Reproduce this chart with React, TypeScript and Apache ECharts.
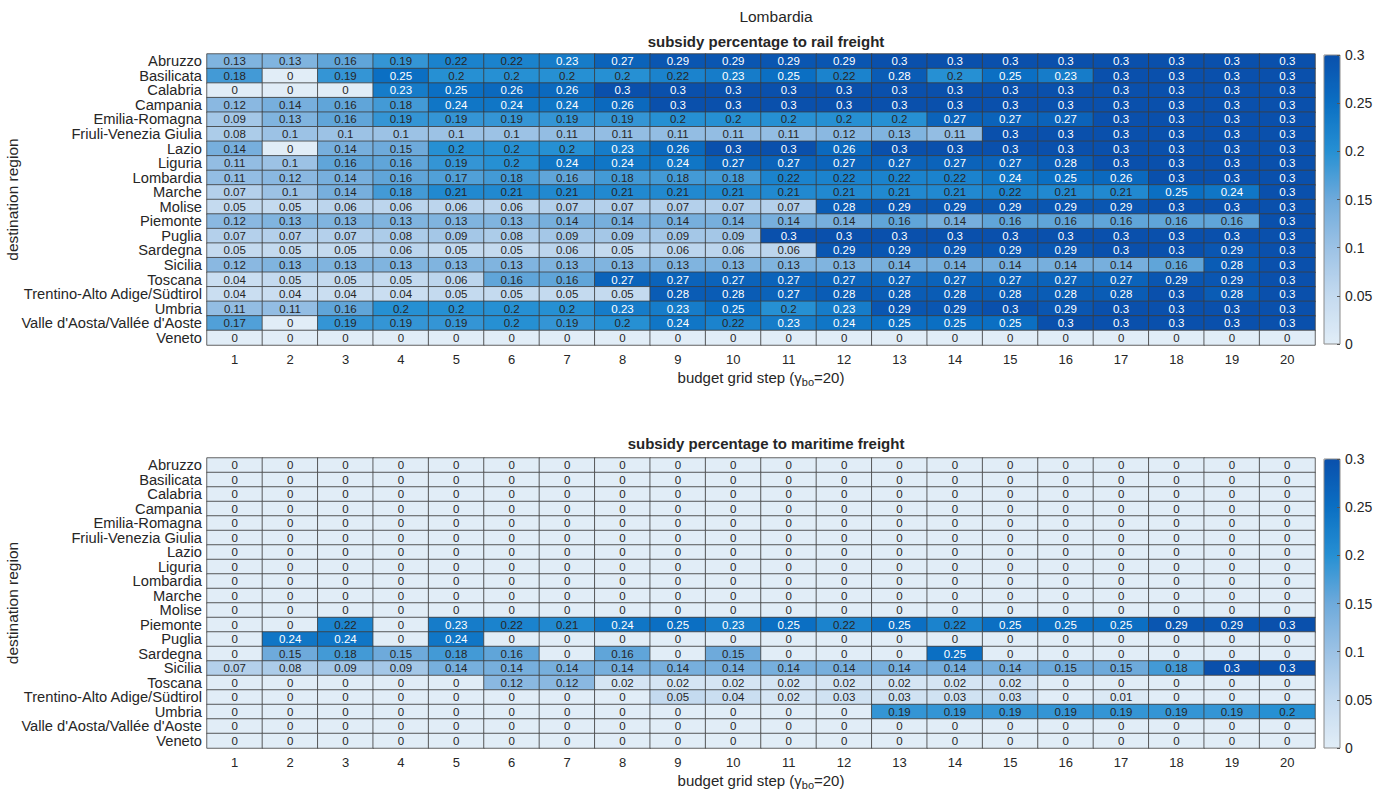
import React, { useEffect, useRef } from "react";
import * as echarts from "echarts";

const figureTitle = "Lombardia";
const railTitle = "subsidy percentage to rail freight";
const maritimeTitle = "subsidy percentage to maritime freight";
const yAxisName = "destination region";

const regions = [
  "Abruzzo",
  "Basilicata",
  "Calabria",
  "Campania",
  "Emilia-Romagna",
  "Friuli-Venezia Giulia",
  "Lazio",
  "Liguria",
  "Lombardia",
  "Marche",
  "Molise",
  "Piemonte",
  "Puglia",
  "Sardegna",
  "Sicilia",
  "Toscana",
  "Trentino-Alto Adige/Südtirol",
  "Umbria",
  "Valle d'Aosta/Vallée d'Aoste",
  "Veneto",
];

const steps = ["1", "2", "3", "4", "5", "6", "7", "8", "9", "10", "11", "12", "13", "14", "15", "16", "17", "18", "19", "20"];

// rail freight subsidy, one row per region (steps 1..20)
const railAbruzzo = [0.13, 0.13, 0.16, 0.19, 0.22, 0.22, 0.23, 0.27, 0.29, 0.29, 0.29, 0.29, 0.3, 0.3, 0.3, 0.3, 0.3, 0.3, 0.3, 0.3];
const railBasilicata = [0.18, 0, 0.19, 0.25, 0.2, 0.2, 0.2, 0.2, 0.22, 0.23, 0.25, 0.22, 0.28, 0.2, 0.25, 0.23, 0.3, 0.3, 0.3, 0.3];
const railCalabria = [0, 0, 0, 0.23, 0.25, 0.26, 0.26, 0.3, 0.3, 0.3, 0.3, 0.3, 0.3, 0.3, 0.3, 0.3, 0.3, 0.3, 0.3, 0.3];
const railCampania = [0.12, 0.14, 0.16, 0.18, 0.24, 0.24, 0.24, 0.26, 0.3, 0.3, 0.3, 0.3, 0.3, 0.3, 0.3, 0.3, 0.3, 0.3, 0.3, 0.3];
const railEmilia = [0.09, 0.13, 0.16, 0.19, 0.19, 0.19, 0.19, 0.19, 0.2, 0.2, 0.2, 0.2, 0.2, 0.27, 0.27, 0.27, 0.3, 0.3, 0.3, 0.3];
const railFriuli = [0.08, 0.1, 0.1, 0.1, 0.1, 0.1, 0.11, 0.11, 0.11, 0.11, 0.11, 0.12, 0.13, 0.11, 0.3, 0.3, 0.3, 0.3, 0.3, 0.3];
const railLazio = [0.14, 0, 0.14, 0.15, 0.2, 0.2, 0.2, 0.23, 0.26, 0.3, 0.3, 0.26, 0.3, 0.3, 0.3, 0.3, 0.3, 0.3, 0.3, 0.3];
const railLiguria = [0.11, 0.1, 0.16, 0.16, 0.19, 0.2, 0.24, 0.24, 0.24, 0.27, 0.27, 0.27, 0.27, 0.27, 0.27, 0.28, 0.3, 0.3, 0.3, 0.3];
const railLombardia = [0.11, 0.12, 0.14, 0.16, 0.17, 0.18, 0.16, 0.18, 0.18, 0.18, 0.22, 0.22, 0.22, 0.22, 0.24, 0.25, 0.26, 0.3, 0.3, 0.3];
const railMarche = [0.07, 0.1, 0.14, 0.18, 0.21, 0.21, 0.21, 0.21, 0.21, 0.21, 0.21, 0.21, 0.21, 0.21, 0.22, 0.21, 0.21, 0.25, 0.24, 0.3];
const railMolise = [0.05, 0.05, 0.06, 0.06, 0.06, 0.06, 0.07, 0.07, 0.07, 0.07, 0.07, 0.28, 0.29, 0.29, 0.29, 0.29, 0.29, 0.3, 0.3, 0.3];
const railPiemonte = [0.12, 0.13, 0.13, 0.13, 0.13, 0.13, 0.14, 0.14, 0.14, 0.14, 0.14, 0.14, 0.16, 0.14, 0.16, 0.16, 0.16, 0.16, 0.16, 0.3];
const railPuglia = [0.07, 0.07, 0.07, 0.08, 0.09, 0.08, 0.09, 0.09, 0.09, 0.09, 0.3, 0.3, 0.3, 0.3, 0.3, 0.3, 0.3, 0.3, 0.3, 0.3];
const railSardegna = [0.05, 0.05, 0.05, 0.06, 0.05, 0.05, 0.06, 0.05, 0.06, 0.06, 0.06, 0.29, 0.29, 0.29, 0.29, 0.29, 0.3, 0.3, 0.29, 0.3];
const railSicilia = [0.12, 0.13, 0.13, 0.13, 0.13, 0.13, 0.13, 0.13, 0.13, 0.13, 0.13, 0.13, 0.14, 0.14, 0.14, 0.14, 0.14, 0.16, 0.28, 0.3];
const railToscana = [0.04, 0.05, 0.05, 0.05, 0.06, 0.16, 0.16, 0.27, 0.27, 0.27, 0.27, 0.27, 0.27, 0.27, 0.27, 0.27, 0.27, 0.29, 0.29, 0.3];
const railTrentino = [0.04, 0.04, 0.04, 0.04, 0.05, 0.05, 0.05, 0.05, 0.28, 0.28, 0.27, 0.28, 0.28, 0.28, 0.28, 0.28, 0.28, 0.3, 0.28, 0.3];
const railUmbria = [0.11, 0.11, 0.16, 0.2, 0.2, 0.2, 0.2, 0.23, 0.23, 0.25, 0.2, 0.23, 0.29, 0.29, 0.3, 0.29, 0.3, 0.3, 0.3, 0.3];
const railValle = [0.17, 0, 0.19, 0.19, 0.19, 0.2, 0.19, 0.2, 0.24, 0.22, 0.23, 0.24, 0.25, 0.25, 0.25, 0.3, 0.3, 0.3, 0.3, 0.3];
const railVeneto = [0, 0, 0, 0, 0, 0, 0, 0, 0, 0, 0, 0, 0, 0, 0, 0, 0, 0, 0, 0];

const railValues = [
  railAbruzzo, railBasilicata, railCalabria, railCampania, railEmilia, railFriuli, railLazio,
  railLiguria, railLombardia, railMarche, railMolise, railPiemonte, railPuglia, railSardegna,
  railSicilia, railToscana, railTrentino, railUmbria, railValle, railVeneto,
];

// maritime freight subsidy, one row per region (steps 1..20)
const zeros = [0, 0, 0, 0, 0, 0, 0, 0, 0, 0, 0, 0, 0, 0, 0, 0, 0, 0, 0, 0];
const marPiemonte = [0, 0, 0.22, 0, 0.23, 0.22, 0.21, 0.24, 0.25, 0.23, 0.25, 0.22, 0.25, 0.22, 0.25, 0.25, 0.25, 0.29, 0.29, 0.3];
const marPuglia = [0, 0.24, 0.24, 0, 0.24, 0, 0, 0, 0, 0, 0, 0, 0, 0, 0, 0, 0, 0, 0, 0];
const marSardegna = [0, 0.15, 0.18, 0.15, 0.18, 0.16, 0, 0.16, 0, 0.15, 0, 0, 0, 0.25, 0, 0, 0, 0, 0, 0];
const marSicilia = [0.07, 0.08, 0.09, 0.09, 0.14, 0.14, 0.14, 0.14, 0.14, 0.14, 0.14, 0.14, 0.14, 0.14, 0.14, 0.15, 0.15, 0.18, 0.3, 0.3];
const marToscana = [0, 0, 0, 0, 0, 0.12, 0.12, 0.02, 0.02, 0.02, 0.02, 0.02, 0.02, 0.02, 0.02, 0, 0, 0, 0, 0];
const marTrentino = [0, 0, 0, 0, 0, 0, 0, 0, 0.05, 0.04, 0.02, 0.03, 0.03, 0.03, 0.03, 0, 0.01, 0, 0, 0];
const marUmbria = [0, 0, 0, 0, 0, 0, 0, 0, 0, 0, 0, 0, 0.19, 0.19, 0.19, 0.19, 0.19, 0.19, 0.19, 0.2];

const maritimeValues = [
  zeros, zeros, zeros, zeros, zeros, zeros, zeros, zeros, zeros, zeros, zeros,
  marPiemonte, marPuglia, marSardegna, marSicilia, marToscana, marTrentino, marUmbria, zeros, zeros,
];

const colormap = ["#e1edf7", "#c4daef", "#9cc2e5", "#6eaadb", "#2690d3", "#0b6fc3", "#0a50ac"];
const FONT = "'Liberation Sans', Arial, Helvetica, sans-serif";
const TEXT = "#262626";

function toCells(matrix: number[][]) {
  const out: any[] = [];
  matrix.forEach((row, yi) => {
    row.forEach((v, xi) => {
      out.push({
        value: [xi, yi, v],
        label: { color: v > 0.225 ? "#ffffff" : TEXT },
      });
    });
  });
  return out;
}

export default function App() {
  const ref = useRef<HTMLDivElement>(null);
  useEffect(() => {
    if (!ref.current) return;
    const chart = echarts.init(ref.current, null, { renderer: "svg" });

    const gridLeft = 207;
    const gridWidth = 1108;
    const grids = [
      { left: gridLeft, top: 54, width: gridWidth, height: 291, outerBoundsMode: "none", containLabel: false },
      { left: gridLeft, top: 458, width: gridWidth, height: 290, outerBoundsMode: "none", containLabel: false },
      { left: 1324, top: 55, width: 16, height: 289, show: true, borderColor: "#8a8a8a", borderWidth: 1, backgroundColor: "transparent", z: 10, outerBoundsMode: "none" },
      { left: 1324, top: 459, width: 16, height: 289, show: true, borderColor: "#8a8a8a", borderWidth: 1, backgroundColor: "transparent", z: 10, outerBoundsMode: "none" },
    ];

    const xName = "{a|budget grid step (γ}{s|bo}{a|=20)}";
    const xNameStyle = {
      fontFamily: FONT,
      color: TEXT,
      rich: {
        a: { fontSize: 15, color: TEXT, fontFamily: FONT },
        s: { fontSize: 11, color: TEXT, fontFamily: FONT, verticalAlign: "bottom", padding: [8, 0, 0, 0] },
      },
    };

    const catX = (gi: number) => ({
      type: "category",
      gridIndex: gi,
      data: steps,
      axisTick: { show: false },
      axisLine: { show: false },
      splitLine: { show: false },
      axisLabel: { fontSize: 13, color: TEXT, fontFamily: FONT, margin: 8, interval: 0 },
      name: xName,
      nameLocation: "middle",
      nameGap: 23,
      nameMoveOverlap: false,
      nameTextStyle: xNameStyle,
    });
    const catY = (gi: number) => ({
      type: "category",
      gridIndex: gi,
      data: regions,
      inverse: true,
      axisTick: { show: false },
      axisLine: { show: false },
      splitLine: { show: false },
      axisLabel: { fontSize: 14.7, color: TEXT, fontFamily: FONT, margin: 5, interval: 0 },
      name: yAxisName,
      nameLocation: "middle",
      nameGap: 187,
      nameMoveOverlap: false,
      nameTextStyle: { fontSize: 15.5, color: TEXT, fontFamily: FONT },
    });
    const cbX = (gi: number) => ({
      type: "category",
      gridIndex: gi,
      data: ["c"],
      show: false,
    });
    const cbY = (gi: number) => ({
      type: "value",
      gridIndex: gi,
      min: 0,
      max: 0.3,
      interval: 0.05,
      position: "right",
      axisLine: { show: false },
      splitLine: { show: false },
      axisTick: { show: true, inside: true, length: 3, lineStyle: { color: "#555" } },
      axisLabel: {
        fontSize: 14,
        color: TEXT,
        fontFamily: FONT,
        margin: 5,
        formatter: (v: number) => String(+v.toFixed(2)),
      },
      z: 10,
    });

    const heat = (xi: number, yi: number, matrix: number[][]) => ({
      type: "heatmap",
      xAxisIndex: xi,
      yAxisIndex: yi,
      data: toCells(matrix),
      label: {
        show: true,
        fontSize: 11.5,
        fontFamily: FONT,
        formatter: (p: any) => String(p.value[2]),
      },
      itemStyle: { borderColor: "#3c3c3c", borderWidth: 0.8 },
      emphasis: { disabled: true },
    });

    const vm = (si: number, top: number) => ({
      type: "continuous",
      seriesIndex: si,
      dimension: 2,
      min: 0,
      max: 0.3,
      inRange: { color: colormap },
      orient: "vertical",
      left: 1324,
      top,
      itemWidth: 16,
      itemHeight: 289,
      padding: 0,
      calculable: false,
      hoverLink: false,
      show: true,
    });

    chart.setOption({
      animation: false,
      backgroundColor: "#ffffff",
      title: [
        { text: figureTitle, left: 771, top: 3, textAlign: "center", textStyle: { fontSize: 15.5, fontWeight: "normal", color: TEXT, fontFamily: FONT } },
        { text: railTitle, left: 761, top: 29, textAlign: "center", textStyle: { fontSize: 15, fontWeight: "bold", color: TEXT, fontFamily: FONT } },
        { text: maritimeTitle, left: 761, top: 431, textAlign: "center", textStyle: { fontSize: 15, fontWeight: "bold", color: TEXT, fontFamily: FONT } },
      ],
      grid: grids,
      xAxis: [catX(0), catX(1), cbX(2), cbX(3)],
      yAxis: [catY(0), catY(1), cbY(2), cbY(3)],
      visualMap: [vm(0, 55), vm(1, 459)],
      series: [
        heat(0, 0, railValues),
        heat(1, 1, maritimeValues),
        { type: "scatter", xAxisIndex: 2, yAxisIndex: 2, data: [] },
        { type: "scatter", xAxisIndex: 3, yAxisIndex: 3, data: [] },
      ],
    });
    return () => chart.dispose();
  }, []);
  return <div ref={ref} style={{ position: "fixed", left: 0, top: 0, width: 1386, height: 793 }} />;
}
